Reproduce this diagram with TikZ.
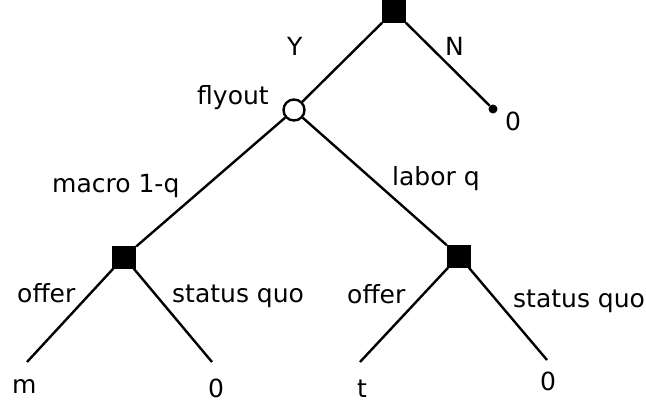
\documentclass[tikz,border=0pt]{standalone}
\usepackage{fontspec}
\setmainfont{DejaVu Sans}
\begin{document}
\begin{tikzpicture}[x=1pt,y=-1pt,
  edge/.style={line width=2.4pt},
  decision/.style={rectangle,fill=black,minimum width=24pt,minimum height=23pt,inner sep=0pt},
  chance/.style={circle,draw=black,line width=2.4pt,fill=white,minimum size=21pt,inner sep=0pt},
  term/.style={circle,fill=black,minimum size=9pt,inner sep=0pt},
  lbl/.style={anchor=base west,inner sep=0pt,font=\fontsize{25}{29}\selectfont}]
\useasboundingbox (0,0) rectangle (646,407);
% nodes
\node[decision] (root) at (394,11) {};
\node[chance] (fly) at (294,110) {};
\node[term] (nleaf) at (493,109) {};
\node[decision] (L) at (124,257) {};
\node[decision] (R) at (459,256) {};
\coordinate (lm) at (27,362);
\coordinate (l0) at (212,362);
\coordinate (rt) at (360,362);
\coordinate (r0) at (547,360);
% edges
\draw[edge] (root) -- (fly);
\draw[edge] (root) -- (nleaf);
\draw[edge] (fly) -- (L);
\draw[edge] (fly) -- (R);
\draw[edge] (L) -- (lm);
\draw[edge] (L) -- (l0);
\draw[edge] (R) -- (rt);
\draw[edge] (R) -- (r0);
% labels
\node[lbl] (tY) at (287,55) {Y};
\node[lbl] (tN) at (445,55) {N};
\node[lbl] (tn0) at (505,130) {0};
\node[lbl] (tfly) at (197,104) {flyout};
\node[lbl] (tmac) at (52,192) {macro 1-q};
\node[lbl] (tlab) at (392,185) {labor q};
\node[lbl] (toffL) at (17,302) {offer};
\node[lbl] (tsqL) at (172,302) {status quo};
\node[lbl] (toffR) at (347,303) {offer};
\node[lbl] (tsqR) at (513,307) {status quo};
\node[lbl] (tm) at (12,393) {m};
\node[lbl] (tl0) at (208,397) {0};
\node[lbl] (tt) at (357,397) {t};
\node[lbl] (tr0) at (540,390) {0};
\end{tikzpicture}
\end{document}
